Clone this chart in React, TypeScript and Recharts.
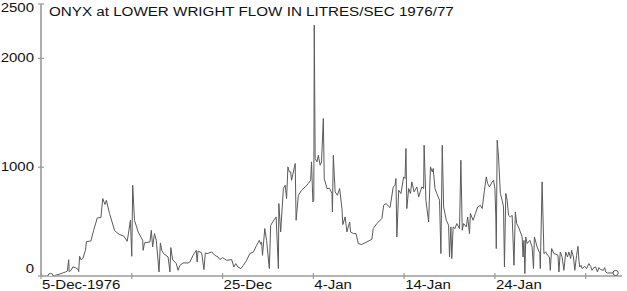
import React from 'react';
import { LineChart, Line, XAxis, YAxis } from 'recharts';

// days after 5-Dec-1976, flow in litres/sec
const days = [
  1.05, 1.5, 2.0, 2.4, 2.7, 2.9, 3.05, 3.1, 3.3, 3.5, 3.8, 4.1, 4.15, 4.25, 4.4, 4.6, 4.9, 5.0, 5.5, 5.8,
  6.2, 6.6, 6.8, 7.05, 7.2, 7.55, 8.1, 8.3, 8.65, 9.1, 9.5, 9.85, 10.0, 10.1, 10.3, 10.7, 11.2, 11.25, 11.4, 12.0,
  12.15, 12.3, 12.5, 12.7, 13.0, 13.15, 13.3, 13.5, 14.0, 14.2, 14.3, 14.5, 14.9, 15.1, 15.3, 15.65, 16.2, 16.4, 16.75, 17.1,
  17.2, 17.3, 17.7, 17.95, 18.1, 18.3, 18.8, 19.15, 19.5, 19.7, 20.0, 20.45, 21.0, 21.25, 21.45, 21.7, 22.0, 22.3, 22.65, 23.0,
  23.4, 23.75, 24.05, 24.2, 24.3, 24.4, 24.65, 24.85, 25.15, 25.3, 25.6, 25.9, 26.15, 26.2, 26.4, 26.7, 26.9, 27.05, 27.2, 27.35,
  27.5, 27.6, 28.0, 28.1, 28.35, 28.7, 29.1, 29.45, 29.7, 29.8, 29.95, 30.05, 30.1, 30.2, 30.4, 30.55, 30.75, 30.9, 31.1, 31.2,
  31.5, 31.8, 32.05, 32.1, 32.2, 32.4, 32.65, 32.9, 33.15, 33.25, 33.5, 33.7, 34.0, 34.1, 34.4, 34.7, 34.95, 35.3, 35.9, 36.45,
  36.6, 37.0, 37.55, 37.75, 38.0, 38.45, 38.8, 39.0, 39.1, 39.2, 39.4, 39.65, 39.95, 40.1, 40.2, 40.3, 40.5, 40.7, 40.85, 41.1,
  41.4, 41.6, 41.95, 42.15, 42.2, 42.4, 42.7, 42.9, 43.1, 43.2, 43.4, 43.6, 43.9, 44.05, 44.2, 44.35, 44.65, 44.9, 45.0, 45.15,
  45.25, 45.4, 45.6, 45.8, 46.1, 46.25, 46.4, 46.55, 46.85, 47.0, 47.2, 47.3, 47.6, 47.85, 48.1, 48.4, 48.6, 48.85, 49.05, 49.2,
  49.4, 49.7, 49.85, 50.0, 50.1, 50.15, 50.25, 50.4, 50.6, 50.8, 50.95, 51.05, 51.2, 51.35, 51.5, 51.7, 51.9, 52.1, 52.25, 52.4,
  52.6, 52.8, 53.0, 53.1, 53.2, 53.3, 53.4, 53.55, 53.85, 54.1, 54.25, 54.35, 54.65, 54.95, 55.0, 55.2, 55.4, 55.6, 55.8, 56.0,
  56.1, 56.25, 56.5, 56.7, 56.95, 57.05, 57.2, 57.4, 57.6, 57.8, 58.0, 58.15, 58.35, 58.45, 58.65, 58.8, 59.0, 59.15, 59.25, 59.35,
  59.5, 59.6, 59.9, 60.1, 60.35, 60.55, 60.7, 60.9, 61.1, 61.3, 61.45, 61.65, 61.95, 62.1, 62.2, 62.4, 62.95, 63.3,
];

const flow = [
  0, 5, 16, 28, 37, 45, 150, 40, 52, 83, 77, 60, 40, 181, 150, 160, 236, 316, 322, 420,
  534, 537, 712, 657, 696, 574, 420, 402, 381, 368, 319, 512, 181, 834, 512, 405, 328, 236, 304, 313,
  420, 267, 390, 328, 37, 304, 236, 206, 175, 37, 261, 151, 114, 52, 98, 120, 120, 129, 190, 236,
  129, 230, 212, 59, 212, 206, 221, 190, 175, 151, 169, 144, 151, 83, 114, 83, 68, 98, 144, 206,
  221, 282, 328, 292, 313, 190, 436, 328, 68, 466, 506, 543, 68, 666, 405, 804, 834, 712, 1003, 957,
  957, 880, 1034, 512, 742, 788, 819, 850, 880, 1049, 681, 696, 2306, 1080, 1049, 1110, 1018, 1049, 1448, 896,
  804, 804, 758, 589, 1110, 773, 742, 804, 620, 473, 543, 405, 497, 405, 390, 390, 298, 289, 313, 338,
  436, 482, 528, 650, 666, 629, 819, 834, 896, 359, 788, 758, 911, 896, 1172, 620, 804, 758, 865, 773,
  819, 727, 819, 804, 1202, 696, 497, 1003, 957, 988, 804, 758, 696, 206, 1202, 635, 512, 466, 175, 451,
  160, 451, 436, 482, 436, 1064, 420, 482, 451, 543, 390, 574, 512, 574, 635, 650, 620, 788, 911, 850,
  819, 865, 880, 804, 543, 252, 1248, 1095, 758, 696, 635, 83, 758, 696, 558, 543, 558, 98, 589, 482,
  451, 405, 359, 175, 328, 22, 359, 298, 328, 267, 68, 359, 267, 206, 68, 865, 206, 221, 190, 175,
  52, 252, 206, 200, 190, 37, 220, 175, 52, 221, 175, 221, 160, 236, 175, 52, 190, 273, 144, 83,
  98, 68, 89, 68, 114, 89, 52, 77, 83, 37, 77, 59, 52, 77, 37, 28, 28, 28,
];

const xTicks = [0, 10, 20, 30, 40, 50, 60];
const xTickLabels = ['5-Dec-1976', '', '25-Dec', '4-Jan', '14-Jan', '24-Jan', ''];
const yTicks = [0, 1000, 2000, 2500];

const TITLE = 'ONYX at LOWER WRIGHT FLOW IN LITRES/SEC 1976/77';

const data = days.map((d, i) => ({ day: d, flow: flow[i] }));

const AXIS = '#9a9a9a';
const FONT = '"Liberation Sans", Arial, sans-serif';

const LeftTick = (props: any) => {
  const { x, y, payload } = props;
  const v = payload.value;
  const dy = v === 0 ? -8 : v === 2500 ? 3 : -1;
  return (
    <g>
      <line x1={x - 3} x2={x + 3} y1={y} y2={y} stroke={AXIS} strokeWidth={1.2} />
      <text
        transform={`translate(${x - 7},${y + dy + 5}) scale(1,0.87)`}
        textAnchor="end"
        fontSize={15}
        fontFamily={FONT}
        fill="#111"
      >
        {v}
      </text>
    </g>
  );
};

const RightTick = (props: any) => {
  const { x, y } = props;
  return <line x1={x - 3} x2={x + 3} y1={y} y2={y} stroke={AXIS} strokeWidth={1.2} />;
};

const BottomTick = (props: any) => {
  const { x, y, payload } = props;
  const label = xTickLabels[xTicks.indexOf(payload.value)] || '';
  return (
    <g>
      <line x1={x} x2={x} y1={y - 3} y2={y + 3} stroke={AXIS} strokeWidth={1.2} />
      <text
        transform={`translate(${x + 1},${y + 12.5}) scale(1,0.87)`}
        textAnchor="start"
        fontSize={15}
        fontFamily={FONT}
        fill="#111"
      >
        {label}
      </text>
    </g>
  );
};

const TopTick = (props: any) => {
  const { x, y } = props;
  return <line x1={x} x2={x} y1={y - 3} y2={y + 3} stroke={AXIS} strokeWidth={1.2} />;
};

const EndDot = (props: any) => {
  const { cx, cy, index } = props;
  if (index !== 0 && index !== data.length - 1) return <g key={`d${index}`} />;
  return <circle key={`d${index}`} cx={cx} cy={cy} r={2.6} fill="#fff" stroke="#555" strokeWidth={1} />;
};

export default function App() {
  return (
    <div style={{ position: 'absolute', left: 0, top: 0, width: 627, height: 291, background: '#fff' }}>
      <LineChart width={627} height={291} data={data} margin={{ top: 4, right: 5, left: 0, bottom: 0 }}>
        <XAxis
          dataKey="day"
          type="number"
          domain={[0, 64]}
          ticks={xTicks}
          height={15}
          tickSize={0}
          tickMargin={0}
          tickLine={false}
          tick={<BottomTick />}
          axisLine={{ stroke: AXIS, strokeWidth: 1.6 }}
          allowDataOverflow
          interval={0}
        />
        <XAxis
          xAxisId="top"
          orientation="top"
          dataKey="day"
          type="number"
          domain={[0, 64]}
          ticks={xTicks}
          height={0}
          tickSize={0}
          tickMargin={0}
          tickLine={false}
          tick={<TopTick />}
          axisLine={{ stroke: AXIS, strokeWidth: 1.6 }}
          allowDataOverflow
          interval={0}
        />
        <YAxis
          type="number"
          domain={[0, 2500]}
          ticks={yTicks}
          width={41}
          tickSize={0}
          tickMargin={0}
          tickLine={false}
          tick={<LeftTick />}
          axisLine={{ stroke: AXIS, strokeWidth: 1.6 }}
          allowDataOverflow
          interval={0}
        />
        <YAxis
          yAxisId="right"
          orientation="right"
          type="number"
          domain={[0, 2500]}
          ticks={[1000, 2000]}
          width={0}
          tickSize={0}
          tickMargin={0}
          tickLine={false}
          tick={<RightTick />}
          axisLine={{ stroke: AXIS, strokeWidth: 1.6 }}
          allowDataOverflow
          interval={0}
        />
        <Line
          type="linear"
          dataKey="flow"
          stroke="#5a5a5a"
          strokeWidth={1}
          dot={EndDot}
          activeDot={false}
          isAnimationActive={false}
        />
        <Line
          xAxisId="top"
          yAxisId="right"
          type="linear"
          dataKey="flow"
          stroke="none"
          dot={false}
          activeDot={false}
          isAnimationActive={false}
        />
      </LineChart>
      <div
        style={{
          position: 'absolute',
          left: 49,
          top: 4,
          fontFamily: FONT,
          fontSize: 15.2,
          color: '#111',
          whiteSpace: 'nowrap',
          transform: 'scaleY(0.87)',
          transformOrigin: 'left top',
          lineHeight: '18px',
        }}
      >
        {TITLE}
      </div>
    </div>
  );
}
